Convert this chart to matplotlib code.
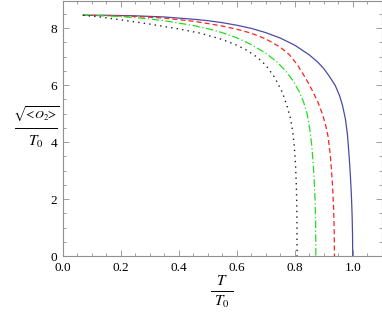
import matplotlib
matplotlib.use('Agg')
import matplotlib.pyplot as plt
from matplotlib.lines import Line2D
from matplotlib.ticker import MultipleLocator, FormatStrFormatter

plt.rcParams['mathtext.fontset'] = 'stix'
plt.rcParams['font.family'] = 'Liberation Serif'

# curves (T/T0, sqrt(<O2>)/T0)
x_blue = [0.07, 0.15, 0.25, 0.35, 0.45, 0.50, 0.55, 0.60, 0.65, 0.70, 0.75, 0.80, 0.85, 0.88, 0.90,
          0.92, 0.94, 0.955, 0.965, 0.975, 0.982, 0.988, 0.992, 0.995, 0.997, 0.9985, 0.9995, 1.0]
y_blue = [8.45, 8.45, 8.43, 8.39, 8.31, 8.26, 8.19, 8.10, 7.99, 7.84, 7.65, 7.40, 7.06, 6.80, 6.58,
          6.30, 5.98, 5.62, 5.28, 4.80, 4.25, 3.45, 2.82, 2.23, 1.73, 1.22, 0.70, 0.0]

x_red = [0.07, 0.15, 0.25, 0.35, 0.45, 0.50, 0.55, 0.60, 0.65, 0.70, 0.75, 0.78, 0.81, 0.84, 0.86,
         0.88, 0.895, 0.906, 0.915, 0.922, 0.927, 0.931, 0.934, 0.936, 0.937]
y_red = [8.45, 8.44, 8.41, 8.35, 8.24, 8.16, 8.07, 7.96, 7.82, 7.62, 7.33, 7.08, 6.70, 6.20, 5.82,
         5.40, 5.00, 4.62, 4.20, 3.60, 3.00, 2.35, 1.70, 1.00, 0.0]

x_green = [0.07, 0.15, 0.25, 0.35, 0.45, 0.50, 0.55, 0.60, 0.65, 0.70, 0.74, 0.77, 0.795, 0.815,
           0.83, 0.843, 0.852, 0.858, 0.863, 0.867, 0.870, 0.872, 0.873]
y_green = [8.45, 8.43, 8.37, 8.26, 8.09, 7.98, 7.84, 7.66, 7.42, 7.12, 6.80, 6.48, 6.14, 5.78,
           5.42, 4.98, 4.45, 3.95, 3.35, 2.70, 2.00, 1.25, 0.0]

x_black = [0.07, 0.12, 0.2, 0.3, 0.4, 0.474, 0.55, 0.60, 0.635, 0.67, 0.70, 0.73, 0.757, 0.774,
           0.785, 0.793, 0.799, 0.803, 0.806, 0.8075, 0.808]
y_black = [8.45, 8.40, 8.29, 8.14, 7.97, 7.82, 7.60, 7.40, 7.22, 6.98, 6.70, 6.28, 5.75, 5.25,
           4.84, 4.38, 3.80, 3.15, 2.35, 1.50, 0.0]

W, H = 382, 314
fig = plt.figure(figsize=(W / 100, H / 100), dpi=100)
ax = fig.add_axes([0.1644, 0.1847, 0.8348, 0.8121])

ax.plot(x_blue, y_blue, color='#4b4ba6', lw=0.9, ls='-')
ax.plot(x_red, y_red, color='#ff2020', lw=0.9, ls=(0, (4, 2.5)))
ax.plot(x_green, y_green, color='#22dd22', lw=0.9, ls=(0, (6, 2, 1, 2)))
ax.plot(x_black, y_black, color='#222222', lw=1.0, ls=(0, (1, 3)))

ax.set_xlim(0, 1.1)
ax.set_ylim(0, 8.95)

ax.xaxis.set_major_locator(MultipleLocator(0.2))
ax.xaxis.set_minor_locator(MultipleLocator(0.05))
ax.yaxis.set_major_locator(MultipleLocator(2))
ax.yaxis.set_minor_locator(MultipleLocator(0.5))
ax.xaxis.set_major_formatter(FormatStrFormatter('%.1f'))

ax.tick_params(which='both', direction='in', top=True, right=True,
               color='#909090', width=0.6, labelsize=9.5, labelcolor='black')
ax.tick_params(which='major', length=4.5, pad=4)
ax.tick_params(which='minor', length=2.5)
for s in ax.spines.values():
    s.set_color('#909090')
    s.set_linewidth(0.8)

# y label as a stacked fraction
fig.text(36 / W, 1 - 114 / H, r'$\sqrt{\text{<}O_2\text{>}}$', fontsize=8.8, ha='center', va='center')
fig.add_artist(Line2D([15 / W, 57 / W], [1 - 128 / H, 1 - 128 / H], color='black', lw=0.7))
fig.text(36 / W, 1 - 142 / H, r'$T_0$', fontsize=11, ha='center', va='center')

# x label as a stacked fraction
fig.text(222 / W, 1 - 281 / H, r'$T$', fontsize=11, ha='center', va='center')
fig.add_artist(Line2D([211 / W, 233 / W], [1 - 291 / H, 1 - 291 / H], color='black', lw=0.7))
fig.text(222 / W, 1 - 302 / H, r'$T_0$', fontsize=11, ha='center', va='center')

fig.savefig('out.png', dpi=100)
